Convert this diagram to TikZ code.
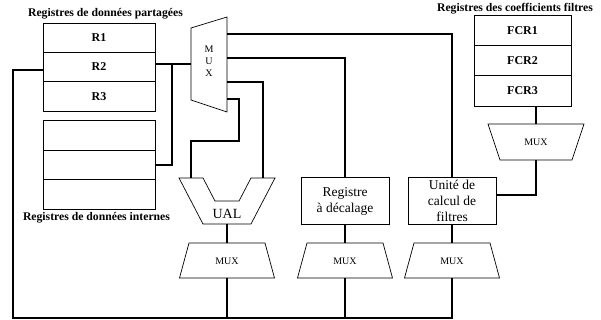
\documentclass[tikz,border=0pt]{standalone}
\usepackage{fontspec}
\setmainfont{Liberation Serif}
\usetikzlibrary{calc}
\tikzset{
  wire/.style={line width=1.9pt},
  blk/.style={draw, line width=0.7pt},
  regbox/.style={blk, minimum height=29.5pt, inner sep=0pt, font=\fontsize{12}{14}\selectfont\bfseries},
  unitbox/.style={blk, minimum width=88pt, minimum height=47pt, inner sep=0pt, align=center, font=\fontsize{13.5}{16}\selectfont},
  title/.style={font=\fontsize{11.7}{13}\selectfont\bfseries},
  muxtext/.style={font=\fontsize{10}{12}\selectfont}
}
\begin{document}
\begin{tikzpicture}[x=1pt, y=-1pt]
  \useasboundingbox (0,0) rectangle (601,320);
  % registres partages
  \node[title] (tpart) at (105.5,14) {Registres de données partagées};
  \node[regbox, minimum width=112pt] (R1) at (99,37.7) {R1};
  \node[regbox, minimum width=112pt] (R2) at (99,67) {R2};
  \node[regbox, minimum width=112pt] (R3) at (99,96.3) {R3};
  % registres internes
  \node[regbox, minimum width=112pt] (I1) at (99,135.4) {};
  \node[regbox, minimum width=112pt] (I2) at (99,165) {};
  \node[regbox, minimum width=112pt] (I3) at (99,194.5) {};
  \node[title] (tint) at (96.5,218) {Registres de données internes};
  % registres des coefficients
  \node[title] (tcoef) at (515,9) {Registres des coefficients filtres};
  \node[regbox, minimum width=97pt, minimum height=30.3pt] (F1) at (522.5,30.2) {FCR1};
  \node[regbox, minimum width=97pt, minimum height=30.3pt] (F2) at (522.5,60.5) {FCR2};
  \node[regbox, minimum width=97pt, minimum height=30.3pt] (F3) at (522.5,90.8) {FCR3};
  % mux vertical
  \draw[line width=0.7pt] (191,28) -- (227,17) -- (227,112) -- (191,100) -- cycle;
  \node[muxtext, align=center, inner sep=0pt] (muxv) at (209,61) {M\\U\\X};
  \coordinate (mv-in) at (191,64);
  \coordinate (mv-o1) at (227,34);
  \coordinate (mv-o2) at (227,58);
  \coordinate (mv-o3) at (227,82);
  \coordinate (mv-o4) at (227,99);
  % UAL
  \draw[line width=0.7pt] (179,178) -- (203,178) -- (215,201) -- (239,201)
    -- (251,178) -- (275,178) -- (251,224) -- (203,224) -- cycle;
  \node[font=\fontsize{14}{16}\selectfont, inner sep=0pt] (ual) at (227,214) {UAL};
  \coordinate (ual-l) at (191,178);
  \coordinate (ual-r) at (263,178);
  \coordinate (ual-b) at (227,224);
  % unites
  \node[unitbox] (dec) at (345,201) {Registre\\à décalage};
  \node[unitbox] (filt) at (452,201) {Unité de\\calcul de\\filtres};
  % mux de sortie
  \foreach \n/\x in {ual/227, dec/345, fil/452} {
    \draw[line width=0.7pt] (\x-38,243) -- (\x+38,243) -- (\x+47.5,278) -- (\x-47.5,278) -- cycle;
    \node[muxtext] (mux\n) at (\x,261) {MUX};
    \coordinate (mux\n-t) at (\x,243);
    \coordinate (mux\n-b) at (\x,278);
  }
  % mux des coefficients
  \draw[line width=0.7pt] (488,124) -- (584,124) -- (572,160) -- (500,160) -- cycle;
  \node[muxtext] (muxc) at (536,142) {MUX};
  \coordinate (muxc-t) at (536,124);
  \coordinate (muxc-b) at (536,160);
  % connexions
  \coordinate (bus) at (13,318);
  \coordinate (tap) at (172,64);
  \begin{scope}[wire]
    \draw ([yshift=3pt]R2.east) -- (mv-in);
    \draw (tap) |- (I2.east);
    \draw (mv-o1) -| (filt.north);
    \draw (mv-o2) -| (dec.north);
    \draw (mv-o3) -| (ual-r);
    \draw (mv-o4) -| (239,141) -| (ual-l);
    \draw (ual-b) -- (muxual-t);
    \draw (dec.south) -- (muxdec-t);
    \draw (filt.south) -- (muxfil-t);
    \draw (muxc-t |- F3.south) -- (muxc-t);
    \draw (muxc-b) |- ([yshift=6pt]filt.east);
    \draw ([yshift=-3pt]R2.west) -| (bus) -| (muxfil-b);
    \draw (muxual-b) -- (muxual-b |- bus);
    \draw (muxdec-b) -- (muxdec-b |- bus);
  \end{scope}
\end{tikzpicture}
\end{document}
